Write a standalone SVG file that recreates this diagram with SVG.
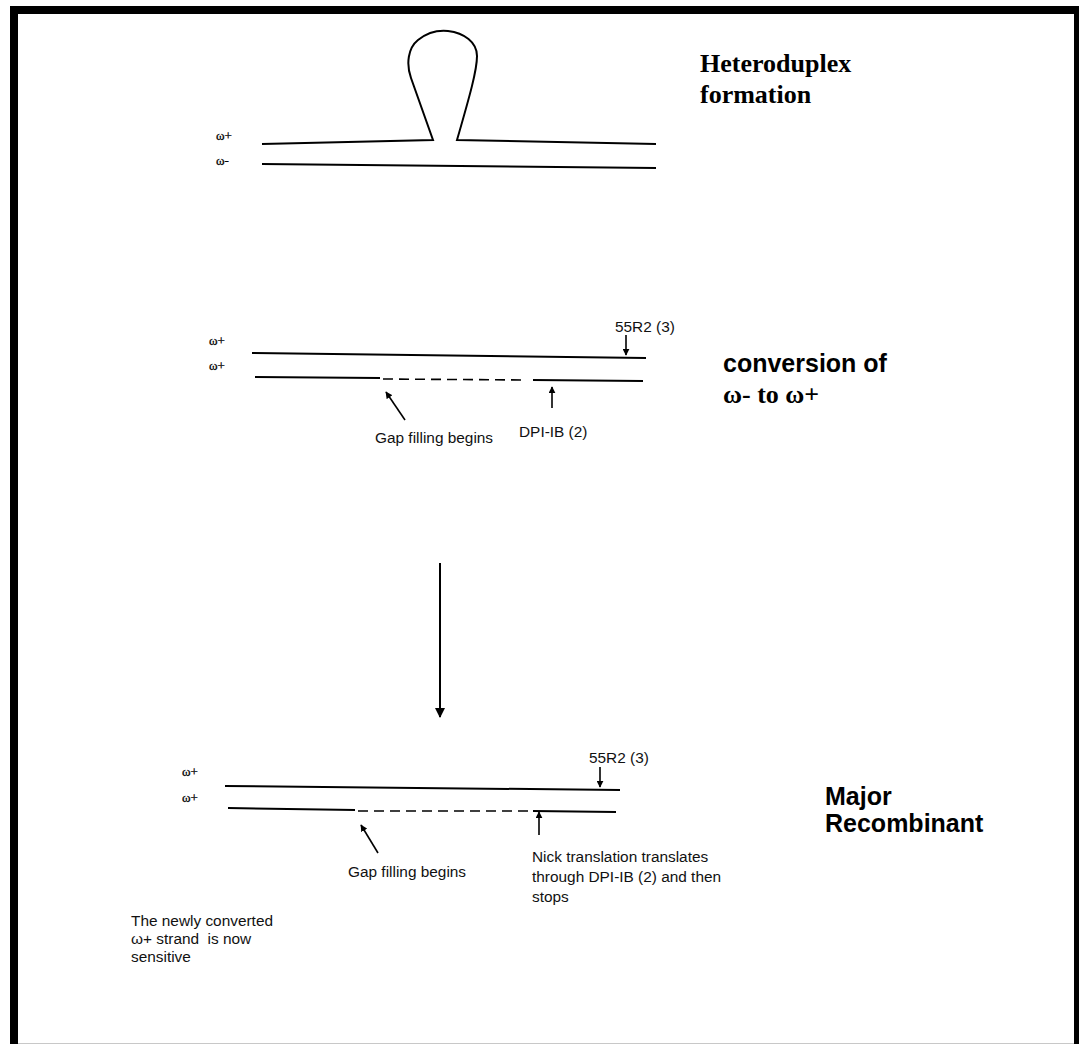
<svg xmlns="http://www.w3.org/2000/svg" width="1079" height="1044" viewBox="0 0 1079 1044">
<style>
.strand{fill:none;stroke:#000;stroke-width:2}
.dash{fill:none;stroke:#000;stroke-width:1.6;stroke-dasharray:10 6}
.arr{fill:none;stroke:#000;stroke-width:1.6}
.lbl{font-family:"Liberation Serif",serif;font-size:13px;fill:#000;stroke:#000;stroke-width:0.3}
.note{font-family:"Liberation Sans",Arial,sans-serif;font-size:15.4px;fill:#111}
.titleS{font-family:"Liberation Sans",Arial,sans-serif;font-size:25px;font-weight:bold;fill:#000}
.titleR{font-family:"Liberation Serif",serif;font-size:26px;font-weight:bold;fill:#000}
</style>
<defs>
<marker id="ah" viewBox="0 0 10 10" refX="9" refY="5" markerWidth="7" markerHeight="7" markerUnits="userSpaceOnUse" orient="auto"><path d="M0,0 L10,5 L0,10 z" fill="#000"/></marker>
<marker id="ahBig" viewBox="0 0 10 10" refX="9" refY="5" markerWidth="11" markerHeight="10" markerUnits="userSpaceOnUse" orient="auto"><path d="M0,0 L10,5 L0,10 z" fill="#000"/></marker>
</defs>
<rect x="0" y="0" width="1079" height="1044" fill="#fff"/>
<rect x="14" y="10" width="1064" height="1050" fill="none" stroke="#000" stroke-width="8"/>
<line x1="18" y1="1043.5" x2="1074" y2="1043.5" stroke="#c8c8c8" stroke-width="1"/>

<g id="heteroduplex">
<path class="strand" d="M262,144 L433,140 L411,78 C406,64 408,48 418,40 C428,32 438,30 448,31 C464,33 477,42 477,56 C477,70 470,95 457,140 L656,144"/>
<path class="strand" d="M262,164 L656,168"/>
<text class="lbl" x="216" y="140">ω+</text>
<text class="lbl" x="216" y="165">ω-</text>
<text class="titleR" x="700" y="72">Heteroduplex</text>
<text class="titleR" x="700" y="103">formation</text>
</g>

<g id="conversion">
<path class="strand" d="M252,353 L646,358"/>
<path class="strand" d="M255,377 L380,378"/>
<path class="dash" d="M383,379 L527,380"/>
<path class="strand" d="M533,380 L643,381"/>
<text class="lbl" x="209" y="345">ω+</text>
<text class="lbl" x="209" y="370">ω+</text>
<text class="note" x="615" y="332">55R2 (3)</text>
<text class="note" x="375" y="443">Gap filling begins</text>
<text class="note" x="519" y="437">DPI-IB (2)</text>
<text class="titleS" x="723" y="372">conversion of</text>
<text class="titleR" x="723" y="403">ω- to ω+</text>
</g>

<g id="recombinant">
<path class="strand" d="M225,786 L620,790"/>
<path class="strand" d="M228,808 L355,810"/>
<path class="dash" d="M358,811 L532,811"/>
<path class="strand" d="M533,811 L616,812"/>
<text class="lbl" x="182" y="776">ω+</text>
<text class="lbl" x="182" y="802">ω+</text>
<text class="note" x="589" y="763">55R2 (3)</text>
<text class="note" x="348" y="877">Gap filling begins</text>
<text class="note" x="532" y="862">Nick translation translates</text>
<text class="note" x="532" y="882">through DPI-IB (2) and then</text>
<text class="note" x="532" y="902">stops</text>
<text class="titleS" x="825" y="805">Major</text>
<text class="titleS" x="825" y="832">Recombinant</text>
</g>

<g id="note">
<text class="note" x="131" y="926">The newly converted</text>
<text class="note" x="131" y="944" xml:space="preserve">ω+ strand  is now</text>
<text class="note" x="131" y="962">sensitive</text>
</g>

<g id="connectors">
<line class="arr" x1="626" y1="335" x2="626" y2="355" marker-end="url(#ah)"/>
<line class="arr" x1="405" y1="420" x2="386" y2="392" marker-end="url(#ah)"/>
<line class="arr" x1="552" y1="408" x2="552" y2="387" marker-end="url(#ah)"/>
<line class="strand" x1="440" y1="563" x2="440" y2="717" marker-end="url(#ahBig)"/>
<line class="arr" x1="600" y1="767" x2="600" y2="787" marker-end="url(#ah)"/>
<line class="arr" x1="378" y1="853" x2="361" y2="825" marker-end="url(#ah)"/>
<line class="arr" x1="539" y1="835" x2="539" y2="812" marker-end="url(#ah)"/>
</g>
</svg>
